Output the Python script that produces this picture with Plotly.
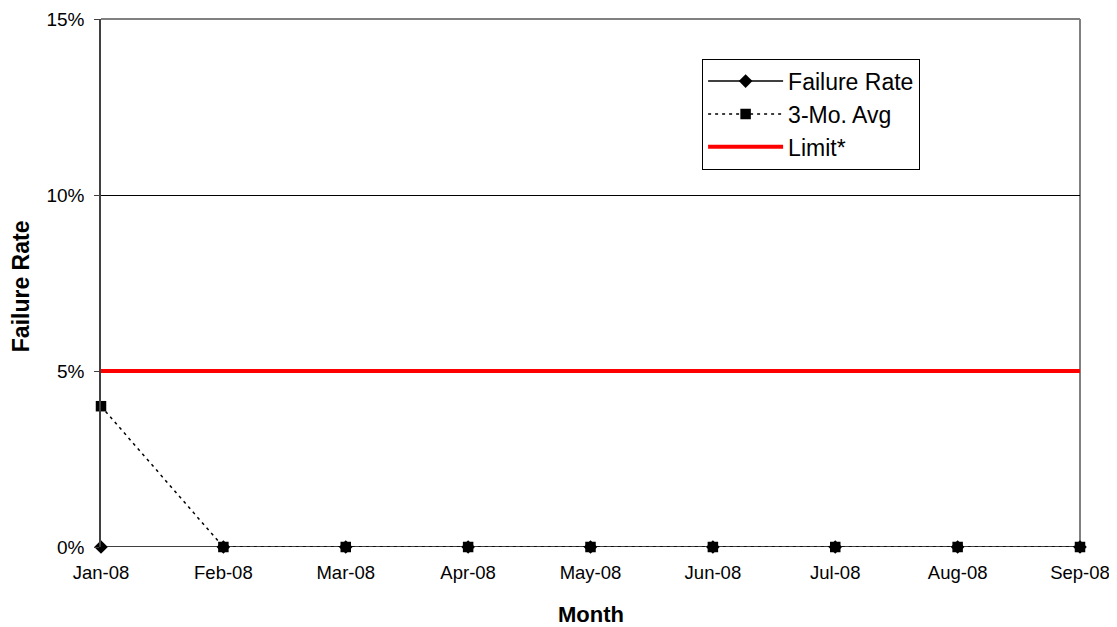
import plotly.graph_objects as go

months = ["Jan-08", "Feb-08", "Mar-08", "Apr-08", "May-08", "Jun-08", "Jul-08", "Aug-08", "Sep-08"]
failure_rate = [0, 0, 0, 0, 0, 0, 0, 0, 0]
three_mo_avg = [0.04, 0, 0, 0, 0, 0, 0, 0, 0]
limit = [0.05] * 9
y_ticks = [0, 0.05, 0.10, 0.15]
y_ticklabels = ["0%", "5%", "10%", "15%"]

x = list(range(len(months)))
FONT = "Liberation Sans, Arial, sans-serif"

fig = go.Figure()
fig.add_trace(go.Scatter(
    x=x, y=failure_rate, name="Failure Rate", mode="lines+markers",
    line=dict(color="black", width=1.5),
    marker=dict(symbol="diamond", size=10.5, color="black"),
    cliponaxis=False,
))
fig.add_trace(go.Scatter(
    x=x, y=three_mo_avg, name="3-Mo. Avg", mode="lines+markers",
    line=dict(color="black", width=1.5, dash="3px,4px"),
    marker=dict(symbol="square", size=10.5, color="black"),
    cliponaxis=False,
))
fig.add_trace(go.Scatter(
    x=x, y=limit, name="Limit*", mode="lines",
    line=dict(color="#ff0000", width=4),
    cliponaxis=False,
))

# plot-area border (top and right), gray
fig.add_shape(type="line", xref="paper", yref="paper", x0=0, x1=1, y0=1, y1=1,
              line=dict(color="#808080", width=2), layer="below")
fig.add_shape(type="line", xref="paper", yref="paper", x0=1, x1=1, y0=0, y1=1,
              line=dict(color="#808080", width=2), layer="below")

# axis titles
fig.add_annotation(text="<b>Failure Rate</b>", xref="paper", yref="paper",
                   x=-0.0817, y=0.494, xanchor="center", yanchor="middle",
                   textangle=-90, showarrow=False,
                   font=dict(family=FONT, size=23, color="black"))
fig.add_annotation(text="<b>Month</b>", xref="paper", yref="paper",
                   x=0.5005, y=-0.127, xanchor="center", yanchor="middle",
                   showarrow=False,
                   font=dict(family=FONT, size=22, color="black"))

fig.update_layout(
    width=1109, height=619,
    margin=dict(l=93, r=37, t=11, b=80),
    paper_bgcolor="white", plot_bgcolor="white",
    font=dict(family=FONT, color="black", size=19),
    showlegend=True,
    legend=dict(
        x=0.614, y=0.925, xanchor="left", yanchor="top",
        bordercolor="black", borderwidth=1, bgcolor="white",
        font=dict(family=FONT, size=23, color="black"),
        itemwidth=75, tracegroupgap=0,
    ),
    xaxis=dict(
        range=[0, 8], tickvals=x, ticktext=months,
        showgrid=False, zeroline=False, showline=False,
        ticks="", tickfont=dict(size=18.5), ticklabelstandoff=12,
        ticklabeloverflow="allow", automargin=False,
    ),
    yaxis=dict(
        range=[0, 0.15], tickvals=y_ticks, ticktext=y_ticklabels,
        showgrid=True, gridcolor="black", gridwidth=1,
        zeroline=False, showline=True, linecolor="#404040", linewidth=1.5,
        ticks="outside", ticklen=5, tickcolor="#404040",
        tickfont=dict(size=19), ticklabelstandoff=6,
        ticklabeloverflow="allow", automargin=False,
    ),
)

fig.write_html("out.html")
